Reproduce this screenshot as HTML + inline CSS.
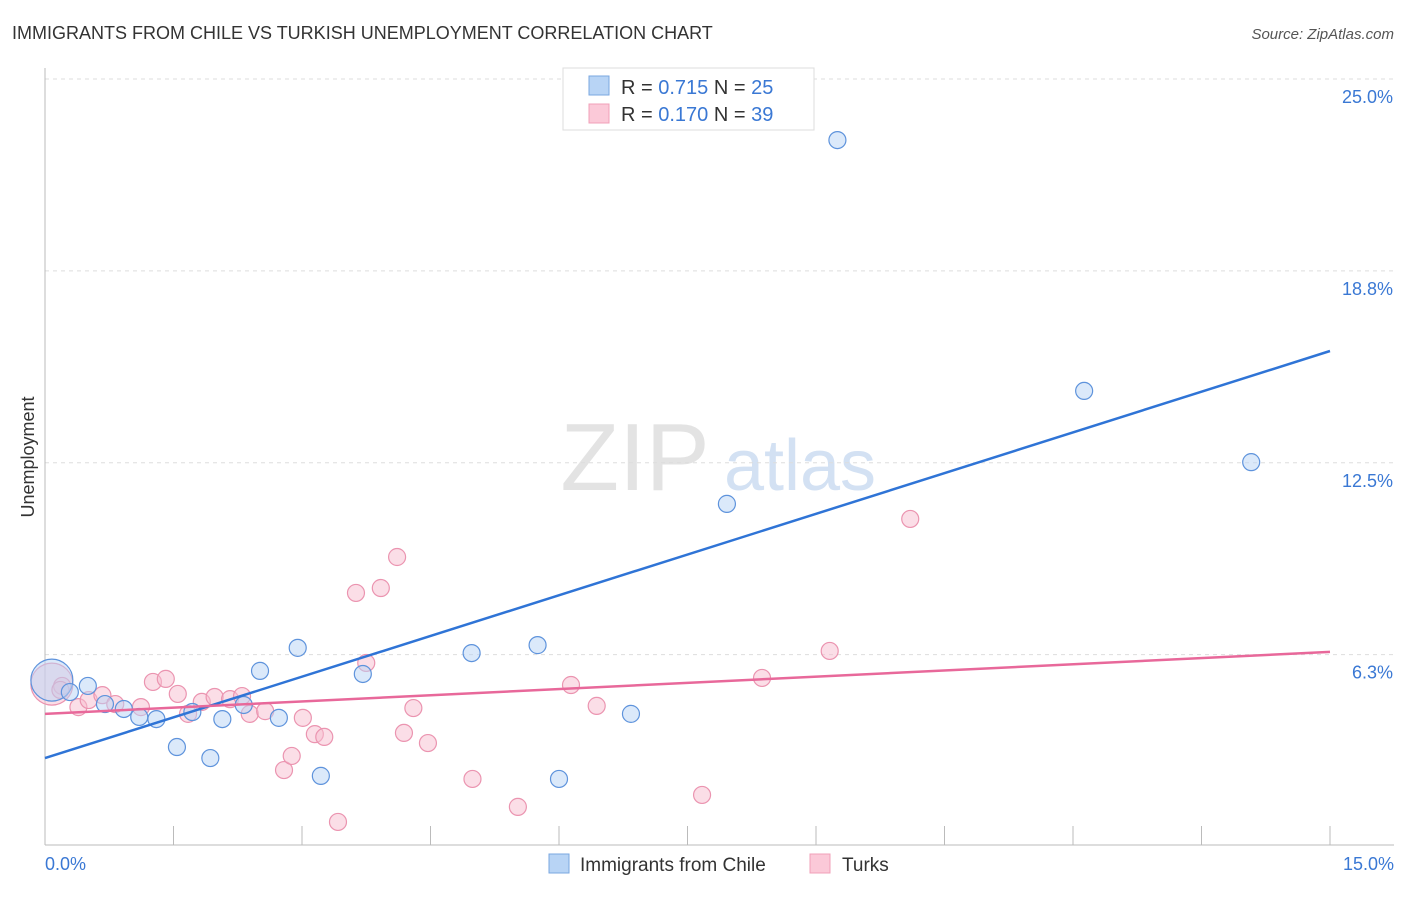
<!DOCTYPE html>
<html><head><meta charset="utf-8"><style>
body{margin:0;background:#fff;font-family:"Liberation Sans",sans-serif;}
svg text{font-family:"Liberation Sans",sans-serif;}
</style></head><body>
<svg id="c" width="1406" height="892" xmlns="http://www.w3.org/2000/svg">
<text x="12" y="39" font-size="18" fill="#333">IMMIGRANTS FROM CHILE VS TURKISH UNEMPLOYMENT CORRELATION CHART</text>
<text x="1394" y="39" font-size="15" fill="#555" text-anchor="end" font-style="italic">Source: ZipAtlas.com</text>
<text transform="translate(34,457) rotate(-90)" font-size="18" fill="#333" text-anchor="middle">Unemployment</text>
<g><text x="635" y="490" font-size="96" fill="#e3e3e3" text-anchor="middle" font-family="Liberation Serif">ZIP</text><text x="800" y="490" font-size="72" fill="#d3e1f3" text-anchor="middle">atlas</text></g>
<g id="grid"></g><g id="marks"></g>
<g>
<rect x="563" y="68" width="251" height="62" fill="#fff" stroke="#ddd"/>
<rect x="589" y="76" width="20" height="19" fill="#b8d4f5" stroke="#7aa7e0"/>
<rect x="589" y="104" width="20" height="19" fill="#fbc9d8" stroke="#f0a0b8"/>
<text x="621" y="94" font-size="20" fill="#333">R = <tspan fill="#3a78d4">0.715</tspan>   N = <tspan fill="#3a78d4">25</tspan></text>
<text x="621" y="121" font-size="20" fill="#333">R = <tspan fill="#3a78d4">0.170</tspan>   N = <tspan fill="#3a78d4">39</tspan></text>
</g>
<g>
<rect x="549" y="854" width="20" height="19" fill="#b8d4f5" stroke="#7aa7e0"/>
<text x="580" y="871" font-size="19" fill="#333">Immigrants from Chile</text>
<rect x="810" y="854" width="20" height="19" fill="#fbc9d8" stroke="#f0a0b8"/>
<text x="842" y="871" font-size="19" fill="#333">Turks</text>
</g>
</svg>
<script>
const yTicks=[25.0,18.75,12.5,6.25];
const yTickLabels=["25.0%","18.8%","12.5%","6.3%"];
const xLabels=["0.0%","15.0%"];
const chileX=[0.08,0.29,0.50,0.70,0.92,1.10,1.30,1.54,1.72,1.93,2.07,2.32,2.51,2.73,2.95,3.22,3.71,4.98,5.75,6.00,6.84,7.96,9.25,12.13,14.08];
const chileY=[5.42,5.03,5.23,4.64,4.48,4.22,4.15,3.24,4.38,2.88,4.15,4.61,5.72,4.19,6.47,2.30,5.62,6.30,6.56,2.20,4.32,11.16,23.01,14.84,12.52];
const turksX=[0.08,0.20,0.39,0.51,0.67,0.82,1.12,1.26,1.41,1.55,1.67,1.83,1.98,2.16,2.30,2.39,2.57,2.79,2.88,3.01,3.15,3.26,3.42,3.63,3.75,3.92,4.11,4.19,4.30,4.47,4.99,5.52,6.14,6.44,7.67,8.37,9.16,10.10,0.18];
const turksY=[5.29,5.23,4.54,4.77,4.93,4.64,4.54,5.36,5.46,4.97,4.32,4.71,4.87,4.80,4.90,4.32,4.41,2.49,2.95,4.19,3.66,3.57,0.80,8.26,5.98,8.42,9.43,3.70,4.51,3.37,2.20,1.29,5.26,4.58,1.68,5.49,6.37,10.67,5.10];
const chileTrend=[2.88,16.14];
const turksTrend=[4.32,6.34];
const NS="http://www.w3.org/2000/svg";
const X=v=>45+v/15*1285, Y=v=>79+(25-v)*30.7;
function mk(t,a,p){const e=document.createElementNS(NS,t);for(const k in a)e.setAttribute(k,a[k]);p.appendChild(e);return e;}
const g=document.getElementById('grid'),m=document.getElementById('marks');
yTicks.forEach((t,i)=>{
 const l=mk('line',{x1:45,x2:1394,y1:Y(t),y2:Y(t),stroke:'#ddd','stroke-dasharray':'4,4'},g);
 
 
 const tx=mk('text',{x:1393,y:Y(t)+24,'font-size':18,fill:'#3a78d4','text-anchor':'end'},g);tx.textContent=yTickLabels[i];
 
 
});
const ax=mk('line',{x1:45,x2:45,y1:68,y2:845,stroke:'#bbb'},g);


const bx=mk('line',{x1:45,x2:1394,y1:845,y2:845,stroke:'#bbb'},g);


for(let i=1;i<=10;i++){const t=mk('line',{x1:X(i*1.5),x2:X(i*1.5),y1:826,y2:845,stroke:'#bbb'},g);
 
 }
[[0,'start',45],[15,'end',1394]].forEach((d,i)=>{const t=mk('text',{x:d[2],y:870,'font-size':18,fill:'#3a78d4','text-anchor':d[1]},g);t.textContent=xLabels[i];
 
 });
function pts(xs,ys,fill,stroke,name){xs.forEach((x,i)=>{const c=mk('circle',{cx:X(x),cy:Y(ys[i]),r:i==0?21:8.5,fill:fill,'fill-opacity':0.5,stroke:stroke,'stroke-width':1.2},m);
 
 });}
pts(turksX,turksY,'#f8bed0','#eb94b0','turks-point');
pts(chileX,chileY,'#b8d4f5','#5e93dc','chile-point');
const l1=mk('line',{x1:X(0),y1:Y(chileTrend[0]),x2:X(15),y2:Y(chileTrend[1]),stroke:'#2f74d6','stroke-width':2.5},m);


const l2=mk('line',{x1:X(0),y1:Y(turksTrend[0]),x2:X(15),y2:Y(turksTrend[1]),stroke:'#e8689a','stroke-width':2.5},m);


</script>
</body></html>
